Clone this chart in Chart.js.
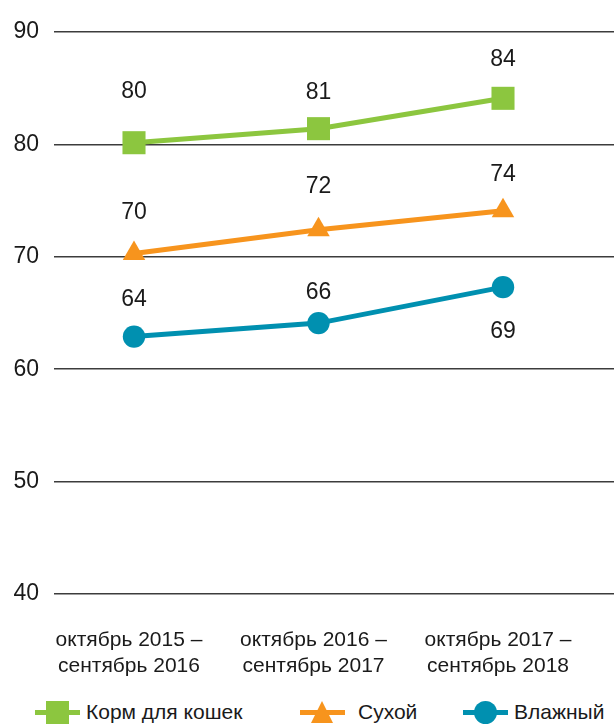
<!DOCTYPE html>
<html lang="ru">
<head>
<meta charset="utf-8">
<script src="https://cdn.jsdelivr.net/npm/chart.js@4"></script>
<style>
  body { margin: 0; background: #fff; }
  #wrap { position: relative; width: 614px; height: 725px; font-family: "Liberation Sans", Arial, sans-serif; color: #1a1a1a; }
  #legend { position: absolute; top: 694px; left: 0; width: 614px; height: 35px; }
  .item { position: absolute; top: 0; height: 35px; display: flex; align-items: center; font-size: 21px; }
  .mark { position: relative; width: 45px; height: 24px; margin-right: 6px; }
  .mark .ln { position: absolute; left: 0; right: 0; top: 10px; height: 5px; }
  .mark .sq { position: absolute; left: 11px; top: 1px; width: 23px; height: 23px; }
  .mark .ci { position: absolute; left: 11px; top: 1px; width: 23px; height: 23px; border-radius: 50%; }
  .mark .tr { position: absolute; left: 11px; top: 1px; width: 0; height: 0; border-left: 11.5px solid transparent; border-right: 11.5px solid transparent; border-bottom: 22px solid; }
</style>
</head>
<body>
<div id="wrap">
  <canvas id="chart" width="614" height="690"></canvas>
  <div id="legend"></div>
</div>
<script>
const categories = [
  ["октябрь 2015 –", "сентябрь 2016"],
  ["октябрь 2016 –", "сентябрь 2017"],
  ["октябрь 2017 –", "сентябрь 2018"],
];
const seriesNames = ["Корм для кошек", "Сухой", "Влажный"];

// values as placed on the chart
const catFood = [80.15, 81.4, 84.1];
const dryFood = [70.3, 72.4, 74.1];
const wetFood = [62.9, 64.1, 67.3];

// numbers printed next to the points
const catFoodLabels = ["80", "81", "84"];
const dryFoodLabels = ["70", "72", "74"];
const wetFoodLabels = ["64", "66", "69"];

const yTicks = [40, 50, 60, 70, 80, 90];

const colors = ["#8cc63f", "#f7941d", "#0090b0"];
const FONT = "'Liberation Sans', Arial, sans-serif";

// label offset from the point centre, px (negative = above)
const labelShift = [
  [-51, -36, -39],
  [-41, -43, -36],
  [-37, -30, 45],
];

const pointLabels = {
  id: "pointLabels",
  afterDatasetsDraw(chart) {
    const ctx = chart.ctx;
    ctx.save();
    ctx.font = "23px " + FONT;
    ctx.fillStyle = "#1a1a1a";
    ctx.textAlign = "center";
    ctx.textBaseline = "middle";
    chart.data.datasets.forEach((ds, d) => {
      chart.getDatasetMeta(d).data.forEach((pt, i) => {
        ctx.fillText(ds.valueLabels[i], pt.x, pt.y + labelShift[d][i]);
      });
    });
    ctx.restore();
  },
};

const toPoints = (arr) => arr.map((v, i) => ({ x: i, y: v }));

new Chart(document.getElementById("chart"), {
  type: "line",
  data: {
    datasets: [
      {
        label: seriesNames[0],
        data: toPoints(catFood),
        valueLabels: catFoodLabels,
        borderColor: colors[0],
        backgroundColor: colors[0],
        pointStyle: "rect",
        pointRadius: 16.3,
      },
      {
        label: seriesNames[1],
        data: toPoints(dryFood),
        valueLabels: dryFoodLabels,
        borderColor: colors[1],
        backgroundColor: colors[1],
        pointStyle: "triangle",
        pointRadius: 13,
      },
      {
        label: seriesNames[2],
        data: toPoints(wetFood),
        valueLabels: wetFoodLabels,
        borderColor: colors[2],
        backgroundColor: colors[2],
        pointStyle: "circle",
        pointRadius: 11.2,
      },
    ],
  },
  options: {
    responsive: false,
    animation: false,
    layout: { autoPadding: false, padding: { top: 32, right: 0, left: 0, bottom: 0 } },
    elements: {
      line: { borderWidth: 5, tension: 0 },
      point: { borderWidth: 0, hoverRadius: 12 },
    },
    plugins: { legend: { display: false }, tooltip: { enabled: false } },
    scales: {
      x: {
        type: "linear",
        min: -0.4336,
        max: 2.6016,
        grid: { display: false },
        border: { display: false },
        afterBuildTicks: (scale) => {
          scale.ticks = categories.map((c, i) => ({ value: i }));
        },
        afterFit: (scale) => {
          scale.height = 96;
          scale.paddingLeft = 0;
          scale.paddingRight = 0;
        },
        ticks: {
          padding: 25,
          labelOffset: -5,
          maxRotation: 0,
          color: "#1a1a1a",
          font: { family: FONT, size: 21, lineHeight: 1.25 },
          callback: (v) => categories[v],
        },
      },
      y: {
        min: yTicks[0],
        max: yTicks[yTicks.length - 1],
        border: { display: false },
        grid: { color: "#3c3c3c", lineWidth: 1.6, drawTicks: false },
        afterBuildTicks: (scale) => {
          scale.ticks = yTicks.map((v) => ({ value: v }));
        },
        afterFit: (scale) => { scale.width = 54; },
        ticks: {
          padding: 15,
          color: "#1a1a1a",
          font: { family: FONT, size: 23 },
        },
      },
    },
  },
  plugins: [pointLabels],
});

// legend under the chart
const legendLeft = [35, 300, 463];
const markKinds = ["sq", "tr", "ci"];
const legend = document.getElementById("legend");
seriesNames.forEach((name, i) => {
  const shape = markKinds[i] === "tr"
    ? `<div class="tr" style="border-bottom-color:${colors[i]}"></div>`
    : `<div class="${markKinds[i]}" style="background:${colors[i]}"></div>`;
  legend.innerHTML += `
    <div class="item" style="left:${legendLeft[i]}px">
      <div class="mark"><div class="ln" style="background:${colors[i]}"></div>${shape}</div>
      <span style="${i === 1 ? "margin-left:7px" : ""}">${name}</span>
    </div>`;
});
</script>
</body>
</html>
